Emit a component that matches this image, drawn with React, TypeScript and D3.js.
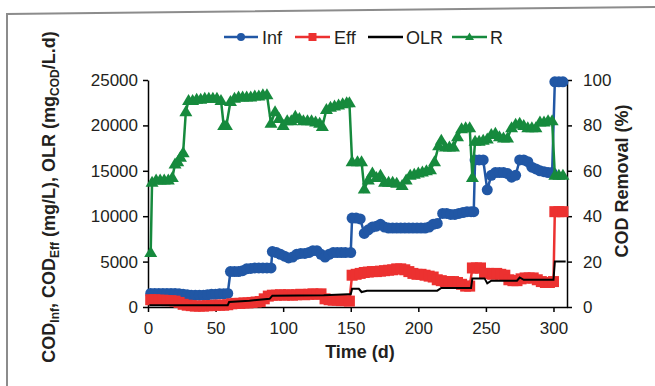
import * as d3 from 'd3';
import { useEffect, useRef } from 'react';

const WIDTH = 655;
const HEIGHT = 386;

const INF_COLOR = '#2157a5';
const EFF_COLOR = '#ec3130';
const OLR_COLOR = '#000000';
const R_COLOR = '#168a3d';
const TEXT_COLOR = '#231f20';
const FONT = '"Liberation Sans", Arial, sans-serif';

const seriesNames = ['Inf', 'Eff', 'OLR', 'R'];
const xTicks = [0, 50, 100, 150, 200, 250, 300];
const leftTicks = [0, 5000, 10000, 15000, 20000, 25000];
const rightTicks = [0, 20, 40, 60, 80, 100];

// [day, influent COD mg/L]
const infPoints: [number, number][] = [
  [2, 1500], [5, 1500], [8, 1500], [11, 1500], [14, 1500], [17, 1500], [20, 1500], [23, 1450],
  [26, 1400], [29, 1350], [32, 1300], [35, 1300], [38, 1300], [41, 1300], [44, 1350], [47, 1400],
  [50, 1400], [53, 1450], [56, 1450], [59, 1500], [61, 3900], [64, 3900], [67, 3900], [70, 4000],
  [73, 4200], [76, 4250], [79, 4300], [82, 4300], [85, 4300], [88, 4300], [91, 4300], [92, 6100],
  [95, 6000], [98, 5800], [101, 5600], [104, 5400], [107, 5500], [110, 5800], [113, 5900], [116, 5900],
  [119, 6000], [122, 6200], [125, 6200], [128, 5800], [131, 5500], [134, 5800], [137, 6000], [140, 6000],
  [143, 6000], [146, 6000], [150, 6000], [151, 9800], [154, 9800], [157, 9700], [160, 8100], [163, 8500],
  [166, 8800], [169, 8900], [172, 9100], [175, 8800], [178, 8700], [181, 8700], [184, 8700], [187, 8700],
  [190, 8700], [193, 8700], [196, 8700], [199, 8700], [202, 8700], [205, 8700], [208, 8800], [211, 9100],
  [214, 9200], [218, 10300], [221, 10300], [224, 10200], [227, 10200], [230, 10300], [233, 10400],
  [236, 10500], [239, 10500], [241, 10500], [242, 16200], [245, 16200], [248, 16200], [251, 12900],
  [254, 14500], [257, 14800], [260, 14800], [263, 14800], [266, 14700], [269, 14300], [272, 14500],
  [275, 16200], [278, 16200], [281, 16000], [284, 15400], [287, 15200], [290, 15000], [293, 14900],
  [296, 14800], [299, 14800], [301, 24800], [304, 24800], [307, 24800],
];

// [day, effluent COD mg/L]
const effPoints: [number, number][] = [
  [2, 800], [5, 800], [8, 750], [11, 750], [14, 700], [17, 700], [20, 650], [23, 500],
  [26, 300], [29, 200], [32, 150], [35, 100], [38, 100], [41, 100], [44, 150], [47, 150],
  [50, 200], [53, 200], [56, 200], [59, 250], [62, 350], [65, 400], [68, 400], [71, 450],
  [74, 450], [77, 500], [80, 550], [83, 600], [86, 900], [89, 1200], [92, 1300], [95, 1300],
  [98, 1350], [101, 1300], [104, 1350], [107, 1300], [110, 1350], [113, 1400], [116, 1350], [119, 1400],
  [122, 1450], [125, 1400], [128, 1450], [131, 900], [134, 800], [137, 750], [140, 750], [143, 700],
  [146, 700], [149, 650], [151, 3500], [154, 3600], [157, 3700], [160, 3800], [163, 3850], [166, 3900],
  [169, 3900], [172, 3950], [175, 4000], [178, 4050], [181, 4100], [184, 4200], [187, 4200], [190, 4100],
  [193, 3900], [196, 3700], [199, 3600], [202, 3600], [205, 3500], [208, 3400], [211, 3300], [214, 3000],
  [217, 2900], [220, 2800], [223, 2800], [226, 2800], [229, 2700], [232, 2500], [235, 2300], [238, 2300],
  [240, 4300], [243, 4300], [246, 4300], [249, 3700], [252, 3700], [255, 3600], [258, 3700], [261, 3600],
  [264, 3500], [267, 3000], [270, 2900], [273, 2900], [276, 3100], [279, 3200], [282, 3200], [285, 3200],
  [288, 3000], [291, 2800], [294, 2700], [297, 2700], [300, 2800], [301, 10500], [304, 10500], [307, 10500],
];

// [day, OLR mgCOD/L.d]
const olrPoints: [number, number][] = [
  [1, 200], [59, 200], [60, 550], [75, 700], [90, 900], [92, 1250], [130, 1300], [148, 1400],
  [150, 1400], [151, 2000], [156, 2000], [158, 1650], [162, 1800], [214, 1800], [217, 2100],
  [239, 2100], [240, 3150], [249, 3150], [251, 2600], [254, 2900], [273, 2900], [275, 3250],
  [278, 3000], [300, 3000], [301, 5000], [309, 5000],
];

// [day, COD removal %]
const removalPoints: [number, number][] = [
  [2, 24], [3, 55], [6, 56], [9, 56], [12, 56], [15, 56], [18, 57], [20, 63],
  [22, 64], [24, 66], [26, 68], [28, 86], [30, 91], [33, 91], [36, 91.5], [39, 91.5],
  [42, 92], [45, 92], [48, 92], [51, 92], [54, 91], [56, 80], [58, 80], [61, 90.5],
  [64, 92], [67, 92.5], [70, 92.5], [73, 92.5], [76, 92.5], [79, 93], [82, 93], [85, 93.5],
  [88, 93.5], [91, 81], [94, 86], [97, 83], [100, 80], [103, 82], [106, 82], [109, 84],
  [112, 83], [115, 82], [118, 82], [121, 82], [124, 81.5], [127, 81], [129, 79.5], [132, 87],
  [135, 88], [138, 88.5], [141, 89], [144, 89.5], [147, 90], [149, 90], [151, 64], [155, 64],
  [158, 64], [160, 52], [163, 56], [166, 59], [169, 57], [172, 58], [175, 55], [178, 55],
  [181, 55], [184, 54.5], [188, 53.5], [191, 56], [194, 58], [197, 58.5], [200, 59], [203, 59.5],
  [206, 60], [209, 60.5], [212, 64], [215, 71], [217, 73.5], [220, 70.5], [223, 70.5], [226, 70.5],
  [229, 75], [232, 78.5], [235, 79], [238, 79], [240, 57], [242, 73], [245, 73], [248, 73.5],
  [251, 74], [254, 76], [257, 76.5], [260, 75], [263, 74.5], [266, 74.5], [269, 79], [272, 80.5],
  [275, 81], [278, 80], [281, 79], [284, 79], [287, 79], [290, 81.5], [293, 81.5], [296, 82],
  [299, 82], [301, 58], [304, 58], [307, 58],
];

const TRIANGLE = 'M0,-6.5L6.5,4.5L-6.5,4.5Z';
const SMALL_TRIANGLE = 'M0,-4.5L4.5,3L-4.5,3Z';

export default function App() {
  const ref = useRef<SVGSVGElement>(null);

  useEffect(() => {
    const svg = d3.select(ref.current);
    svg.selectAll('*').remove();

    const margin = { top: 80, right: 88, bottom: 79, left: 148 };
    const plotBottom = HEIGHT - margin.bottom;
    const plotRight = WIDTH - margin.right;

    const x = d3.scaleLinear().domain([0, 310]).range([margin.left, plotRight]);
    const y = d3.scaleLinear().domain([0, 25000]).range([plotBottom, margin.top]);
    const yR = d3.scaleLinear().domain([0, 100]).range([plotBottom, margin.top]);

    svg.style('font-family', FONT);

    // page frame
    svg.append('path')
      .attr('d', `M7,${HEIGHT}L7,14L${WIDTH},7`)
      .attr('fill', 'none')
      .attr('stroke', '#8c8c8c')
      .attr('stroke-width', 2);

    const styleAxis = (axis: any) => {
      axis.select('.domain').attr('stroke', '#000').attr('stroke-width', 1.5);
      axis.selectAll('.tick line').attr('stroke', '#000').attr('stroke-width', 1.5);
      axis.selectAll('.tick text')
        .attr('fill', TEXT_COLOR)
        .style('font-size', '17px')
        .style('font-family', FONT);
    };

    svg.append('g')
      .attr('transform', `translate(${margin.left},0)`)
      .call(d3.axisLeft(y).tickValues(leftTicks).tickSize(5).tickPadding(5).tickSizeOuter(0).tickFormat(d3.format('d')))
      .call(styleAxis);

    svg.append('g')
      .attr('transform', `translate(${plotRight},0)`)
      .call(d3.axisRight(yR).tickValues(rightTicks).tickSize(5).tickPadding(11).tickSizeOuter(0))
      .call(styleAxis);

    svg.append('g')
      .attr('transform', `translate(0,${plotBottom})`)
      .call(d3.axisBottom(x).tickValues(xTicks).tickSize(5).tickPadding(10).tickSizeOuter(0))
      .call(styleAxis);

    const lineL = d3.line<[number, number]>().x((d) => x(d[0])).y((d) => y(d[1]));
    const lineR = d3.line<[number, number]>().x((d) => x(d[0])).y((d) => yR(d[1]));

    // Inf
    svg.append('path')
      .attr('d', lineL(infPoints))
      .attr('fill', 'none')
      .attr('stroke', INF_COLOR)
      .attr('stroke-width', 2.5);
    svg.append('g')
      .selectAll('circle')
      .data(infPoints)
      .enter()
      .append('circle')
      .attr('cx', (d) => x(d[0]))
      .attr('cy', (d) => y(d[1]))
      .attr('r', 5.5)
      .attr('fill', INF_COLOR);

    // Eff
    svg.append('path')
      .attr('d', lineL(effPoints))
      .attr('fill', 'none')
      .attr('stroke', EFF_COLOR)
      .attr('stroke-width', 2.5);
    svg.append('g')
      .selectAll('rect')
      .data(effPoints)
      .enter()
      .append('rect')
      .attr('x', (d) => x(d[0]) - 5.5)
      .attr('y', (d) => y(d[1]) - 5.5)
      .attr('width', 11)
      .attr('height', 11)
      .attr('fill', EFF_COLOR);

    // OLR
    svg.append('path')
      .attr('d', lineL(olrPoints))
      .attr('fill', 'none')
      .attr('stroke', OLR_COLOR)
      .attr('stroke-width', 2);

    // R
    svg.append('path')
      .attr('d', lineR(removalPoints))
      .attr('fill', 'none')
      .attr('stroke', R_COLOR)
      .attr('stroke-width', 2.5);
    svg.append('g')
      .selectAll('path')
      .data(removalPoints)
      .enter()
      .append('path')
      .attr('d', TRIANGLE)
      .attr('transform', (d) => `translate(${x(d[0])},${yR(d[1])})`)
      .attr('fill', R_COLOR);

    // legend
    const legendY = 37;
    const legendItems = [
      { x0: 224, x1: 258, tx: 262, color: INF_COLOR, marker: 'circle' },
      { x0: 295, x1: 330, tx: 334, color: EFF_COLOR, marker: 'square' },
      { x0: 368, x1: 403, tx: 406, color: OLR_COLOR, marker: 'none' },
      { x0: 452, x1: 487, tx: 490, color: R_COLOR, marker: 'triangle' },
    ];
    const legend = svg.append('g');
    legendItems.forEach((item, i) => {
      const cx = (item.x0 + item.x1) / 2;
      legend.append('line')
        .attr('x1', item.x0)
        .attr('x2', item.x1)
        .attr('y1', legendY)
        .attr('y2', legendY)
        .attr('stroke', item.color)
        .attr('stroke-width', 2.5);
      if (item.marker === 'circle') {
        legend.append('circle').attr('cx', cx).attr('cy', legendY).attr('r', 4).attr('fill', item.color);
      } else if (item.marker === 'square') {
        legend.append('rect').attr('x', cx - 4).attr('y', legendY - 4).attr('width', 8).attr('height', 8).attr('fill', item.color);
      } else if (item.marker === 'triangle') {
        legend.append('path').attr('d', SMALL_TRIANGLE).attr('transform', `translate(${cx},${legendY})`).attr('fill', item.color);
      }
      legend.append('text')
        .attr('x', item.tx)
        .attr('y', legendY + 6.5)
        .attr('fill', TEXT_COLOR)
        .style('font-size', '18px')
        .text(seriesNames[i]);
    });

    // axis titles
    svg.append('text')
      .attr('x', 360)
      .attr('y', 358)
      .attr('text-anchor', 'middle')
      .attr('fill', TEXT_COLOR)
      .style('font-size', '18px')
      .style('font-weight', 700)
      .text('Time (d)');

    svg.append('text')
      .attr('transform', 'translate(628,181) rotate(-90)')
      .attr('text-anchor', 'middle')
      .attr('fill', TEXT_COLOR)
      .style('font-size', '18px')
      .style('font-weight', 700)
      .text('COD Removal (%)');

    const leftTitle = svg.append('text')
      .attr('transform', 'translate(55,197) rotate(-90)')
      .attr('text-anchor', 'middle')
      .attr('fill', TEXT_COLOR)
      .style('font-size', '18px')
      .style('font-weight', 700);
    const parts: [string, boolean][] = [
      ['COD', false], ['Inf', true], [', COD', false], ['Eff', true],
      [' (mg/L), OLR (mg', false], ['COD', true], ['/L.d)', false],
    ];
    parts.forEach(([t, sub], i) => {
      const prevSub = i > 0 && parts[i - 1][1];
      leftTitle.append('tspan')
        .attr('dy', sub ? 4 : prevSub ? -4 : 0)
        .style('font-size', sub ? '12px' : '18px')
        .text(t);
    });
  }, []);

  return (
    <svg
      ref={ref}
      width={WIDTH}
      height={HEIGHT}
      style={{ position: 'absolute', left: 0, top: 0, background: '#fff' }}
    />
  );
}
